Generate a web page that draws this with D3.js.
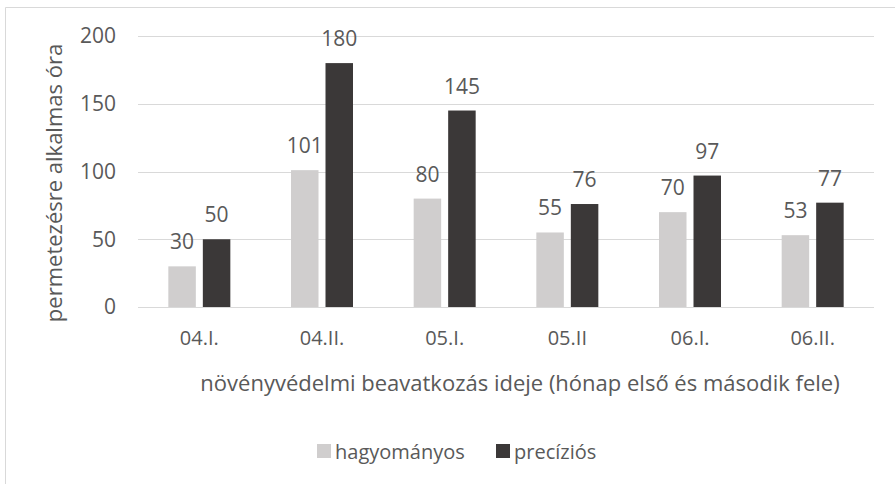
<!doctype html>
<html>
<head>
<meta charset="utf-8">
<style>
  body { margin: 0; background: #fff; }
  text { font-family: "Open Sans", sans-serif; fill: #595959; }
</style>
<script src="https://cdn.jsdelivr.net/npm/d3@7"></script>
</head>
<body>
<svg width="895" height="484"></svg>
<script>
var categories = ['04.I.', '04.II.', '05.I.', '05.II', '06.I.', '06.II.'];
var hagyomanyos = [30, 101, 80, 55, 70, 53];
var precizios = [50, 180, 145, 76, 97, 77];
var seriesNames = ['hagyományos', 'precíziós'];
var yTicks = [0, 50, 100, 150, 200];

var colors = ['#d0cece', '#3b3838'];
var svg = d3.select('svg');

// chart border (cropped on the right)
svg.append('path')
  .attr('d', 'M5.5,484 V7.5 H895')
  .attr('fill', 'none')
  .attr('stroke', '#d9d9d9');

var plotLeft = 138, plotRight = 874, plotTop = 36, plotBottom = 307;

var x = d3.scaleBand().domain(categories).range([plotLeft, plotRight]);
var y = d3.scaleLinear().domain([0, 200]).range([plotBottom, plotTop]);

// gridlines
svg.append('g').selectAll('line')
  .data(yTicks)
  .join('line')
  .attr('x1', plotLeft).attr('x2', plotRight)
  .attr('y1', function(d){ return Math.round(y(d)) + 0.5; })
  .attr('y2', function(d){ return Math.round(y(d)) + 0.5; })
  .attr('stroke', '#d9d9d9')
  .attr('stroke-width', 1);

// y tick labels
svg.append('g').selectAll('text')
  .data(yTicks)
  .join('text')
  .attr('x', 116)
  .attr('y', function(d){ return y(d); })
  .attr('dy', '0.35em')
  .attr('text-anchor', 'end')
  .style('font-size', '21px')
  .text(function(d){ return d; });

// bars
var barW = 27.5, gap = 7;
var series = [hagyomanyos, precizios];
series.forEach(function(vals, s){
  var g = svg.append('g');
  var off = s === 0 ? -gap / 2 - barW : gap / 2;
  g.selectAll('rect')
    .data(vals)
    .join('rect')
    .attr('x', function(d, i){ return x(categories[i]) + x.bandwidth() / 2 + off; })
    .attr('y', function(d){ return y(d); })
    .attr('width', barW)
    .attr('height', function(d){ return y(0) - y(d); })
    .attr('fill', colors[s]);
  g.selectAll('text')
    .data(vals)
    .join('text')
    .attr('x', function(d, i){ return x(categories[i]) + x.bandwidth() / 2 + off + barW / 2; })
    .attr('y', function(d){ return y(d) - 17; })
    .attr('text-anchor', 'middle')
    .style('font-size', '21px')
    .text(function(d){ return d; });
});

// x category labels
svg.append('g').selectAll('text')
  .data(categories)
  .join('text')
  .attr('x', function(d){ return x(d) + x.bandwidth() / 2; })
  .attr('y', 345)
  .attr('text-anchor', 'middle')
  .style('font-size', '20px')
  .text(function(d){ return d; });

// axis titles
svg.append('text')
  .attr('x', 520)
  .attr('y', 391)
  .attr('text-anchor', 'middle')
  .style('font-size', '22px')
  .text('növényvédelmi beavatkozás ideje (hónap első és második fele)');

svg.append('text')
  .attr('transform', 'translate(62,183) rotate(-90)')
  .attr('text-anchor', 'middle')
  .style('font-size', '22px')
  .text('permetezésre alkalmas óra');

// legend
var legendX = [317, 496];
seriesNames.forEach(function(name, s){
  svg.append('rect')
    .attr('x', legendX[s]).attr('y', 444)
    .attr('width', 14).attr('height', 14)
    .attr('fill', colors[s]);
  svg.append('text')
    .attr('x', legendX[s] + 18).attr('y', 459)
    .style('font-size', '20px')
    .text(name);
});
</script>
</body>
</html>
